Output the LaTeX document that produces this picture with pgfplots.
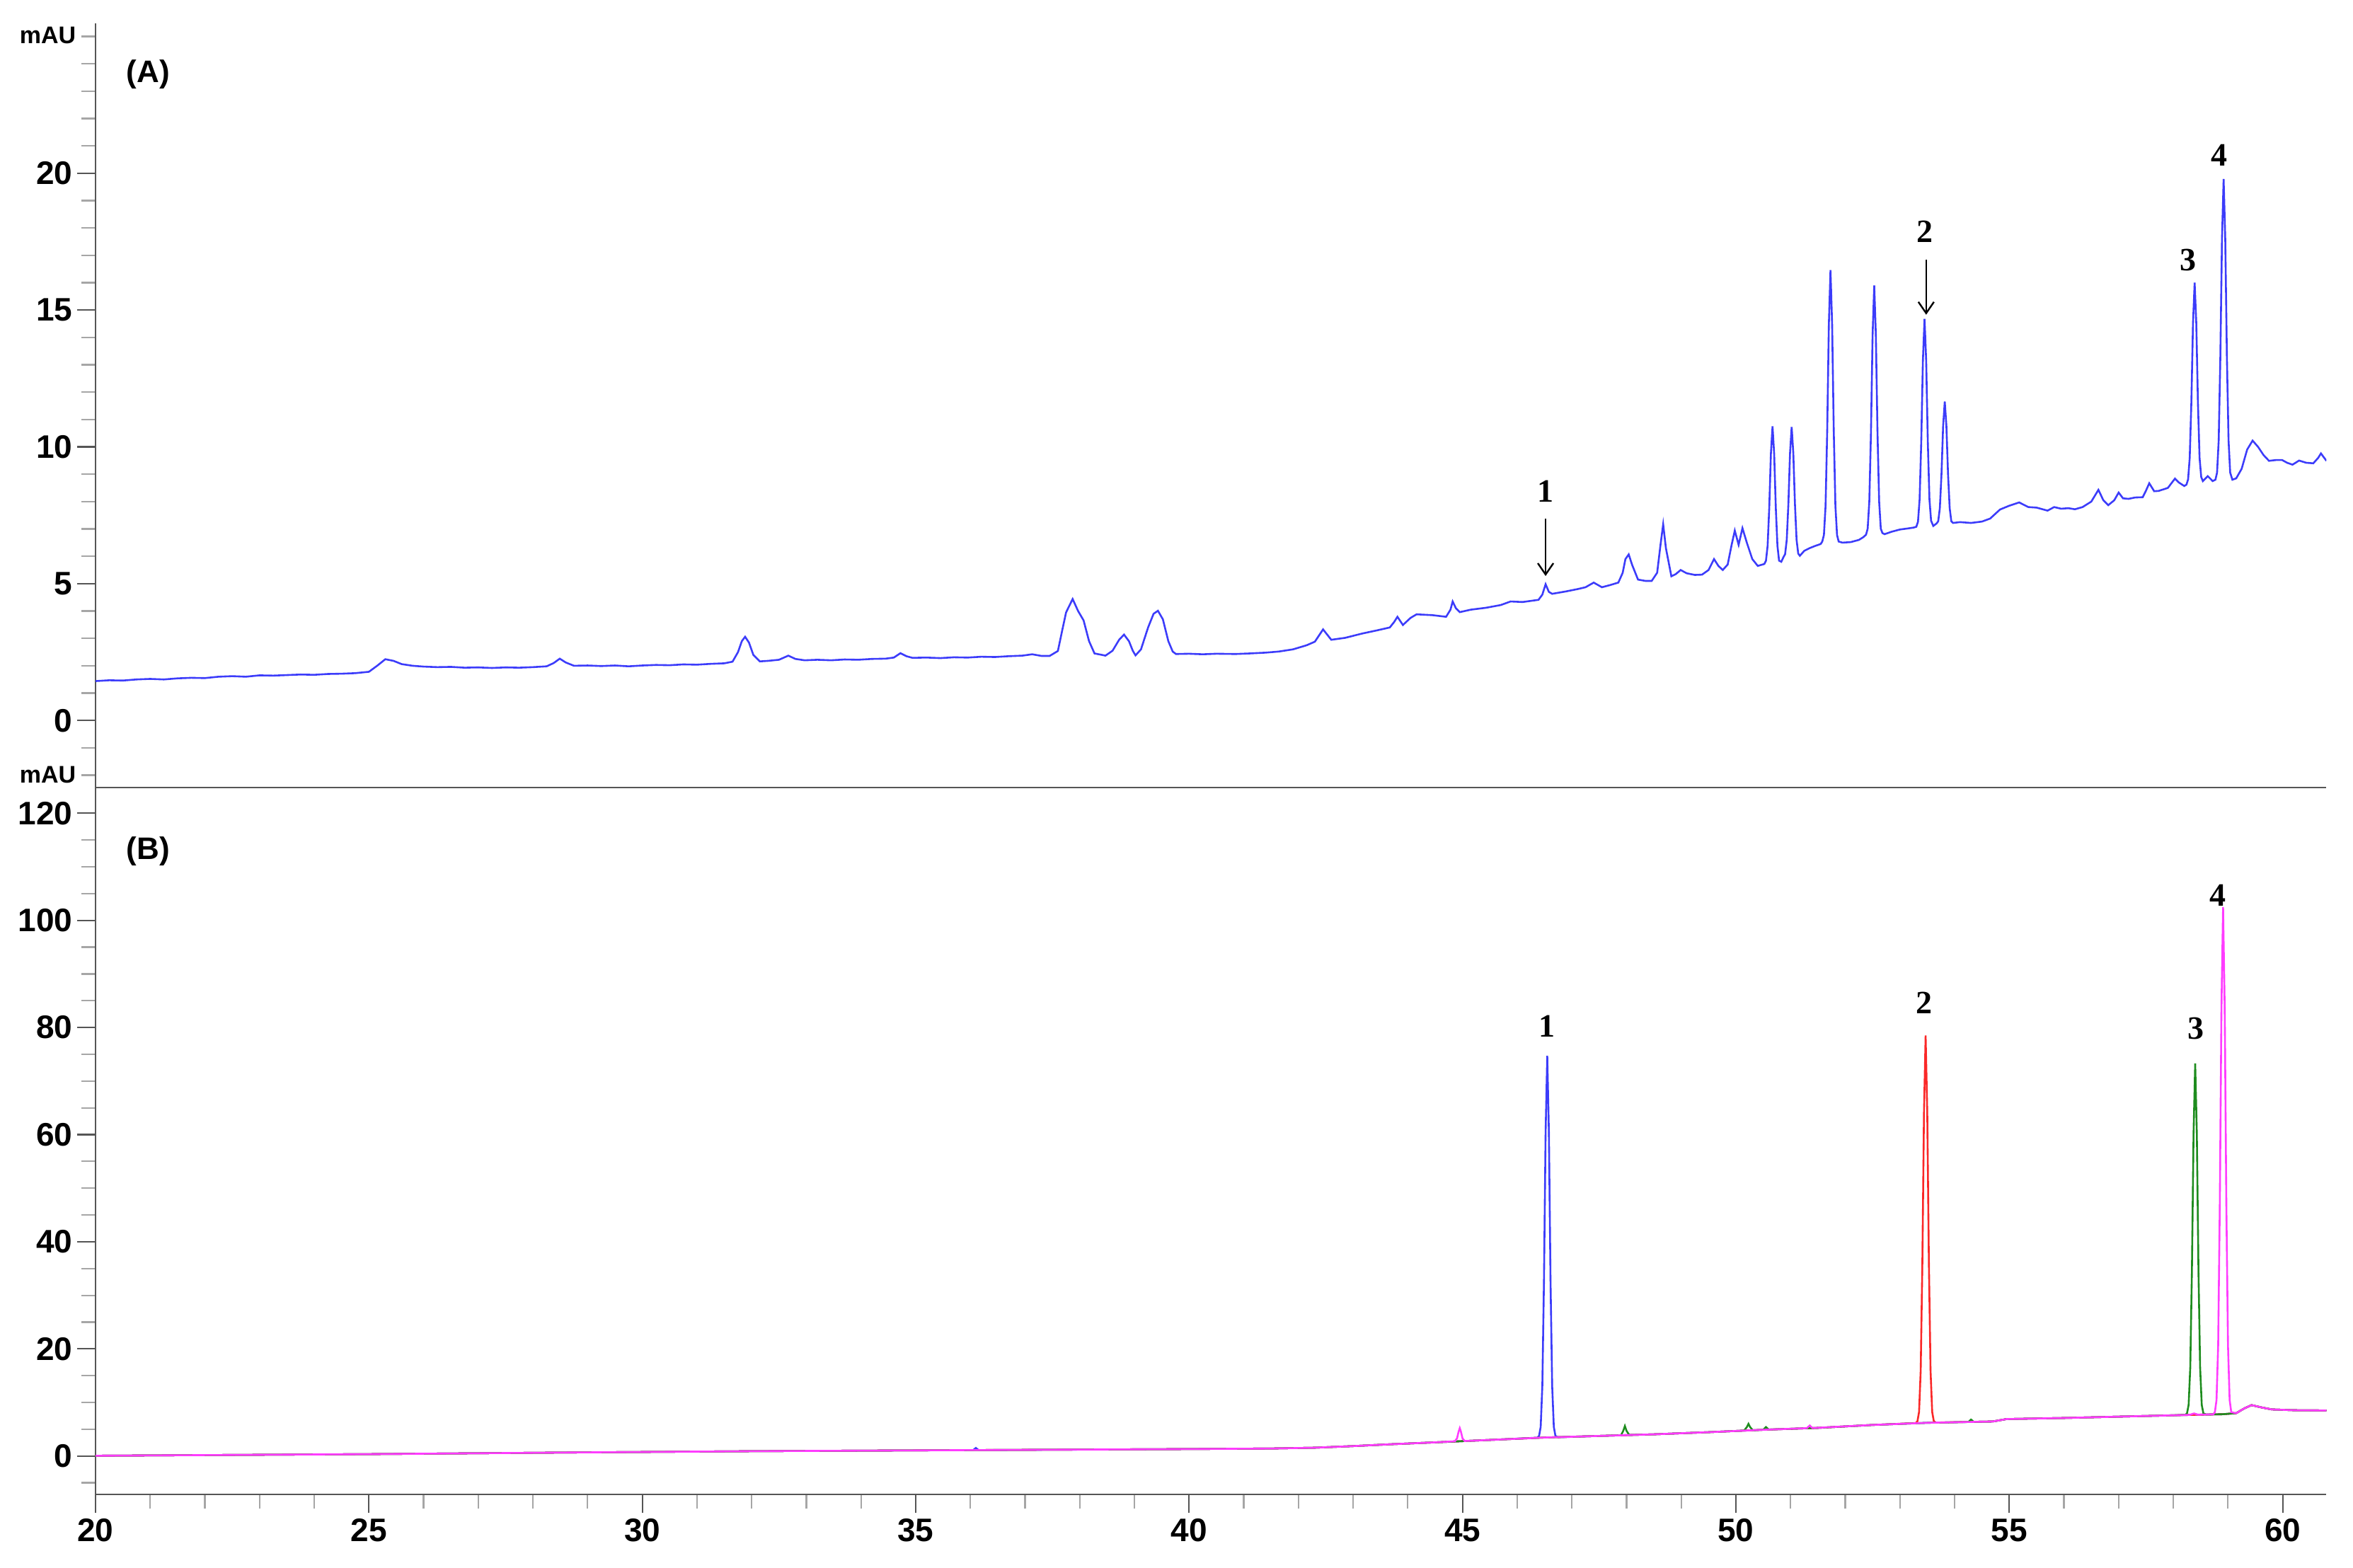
\documentclass[border=0pt]{standalone}
\usepackage{fontspec}
\setmainfont{Liberation Sans}
\newfontfamily\tnr{Liberation Serif}
\usepackage{pgfplots}
\usepackage{pgfplotstable}
\pgfplotsset{compat=1.18}
\usetikzlibrary{arrows.meta}

\definecolor{cA}{RGB}{60,60,250}
\definecolor{cR}{RGB}{250,40,40}
\definecolor{cG}{RGB}{30,140,30}
\definecolor{cM}{RGB}{255,60,255}
\definecolor{axc}{RGB}{85,85,85}

% (A) sample trace
\pgfplotstableread[row sep=\\]{
x y\\
20.0 1.44\\ 20.25 1.47\\ 20.5 1.46\\ 20.75 1.50\\ 21.0 1.52\\ 21.25 1.50\\ 21.5 1.54\\ 21.75 1.56\\
22.0 1.55\\ 22.25 1.60\\ 22.5 1.62\\ 22.75 1.60\\ 23.0 1.65\\ 23.25 1.64\\ 23.5 1.66\\ 23.75 1.68\\
24.0 1.67\\ 24.25 1.70\\ 24.5 1.71\\ 24.75 1.73\\ 25.0 1.78\\ 25.15 2.00\\ 25.3 2.24\\ 25.45 2.18\\
25.6 2.06\\ 25.8 2.00\\ 26.0 1.97\\ 26.25 1.95\\ 26.5 1.96\\ 26.75 1.93\\ 27.0 1.94\\ 27.25 1.92\\
27.5 1.94\\ 27.75 1.93\\ 28.0 1.95\\ 28.25 1.98\\ 28.38 2.10\\ 28.49 2.26\\ 28.6 2.12\\ 28.75 2.00\\
29.0 2.01\\ 29.25 1.99\\ 29.5 2.01\\ 29.75 1.98\\ 30.0 2.01\\ 30.25 2.03\\ 30.5 2.02\\ 30.75 2.05\\
31.0 2.04\\ 31.25 2.07\\ 31.5 2.09\\ 31.65 2.15\\ 31.75 2.50\\ 31.82 2.90\\ 31.88 3.06\\ 31.95 2.85\\
32.03 2.40\\ 32.15 2.16\\ 32.3 2.18\\ 32.5 2.22\\ 32.67 2.37\\ 32.8 2.25\\ 32.97 2.20\\ 33.2 2.22\\
33.45 2.20\\ 33.7 2.23\\ 33.95 2.22\\ 34.2 2.25\\ 34.45 2.26\\ 34.6 2.30\\ 34.72 2.46\\ 34.83 2.35\\
34.94 2.29\\ 35.2 2.30\\ 35.45 2.28\\ 35.7 2.31\\ 35.95 2.30\\ 36.2 2.33\\ 36.45 2.32\\ 36.7 2.35\\
36.95 2.37\\ 37.13 2.42\\ 37.3 2.36\\ 37.45 2.36\\ 37.6 2.54\\ 37.68 3.30\\ 37.75 3.95\\ 37.87 4.44\\
37.97 4.00\\ 38.07 3.66\\ 38.17 2.90\\ 38.27 2.45\\ 38.4 2.40\\ 38.47 2.37\\ 38.6 2.55\\ 38.72 2.95\\
38.81 3.14\\ 38.9 2.90\\ 38.97 2.55\\ 39.02 2.38\\ 39.12 2.60\\ 39.25 3.40\\ 39.35 3.90\\ 39.43 4.01\\
39.52 3.70\\ 39.62 2.90\\ 39.7 2.52\\ 39.76 2.43\\ 40.0 2.44\\ 40.25 2.42\\ 40.5 2.44\\ 40.85 2.43\\
41.1 2.45\\ 41.4 2.48\\ 41.64 2.52\\ 41.9 2.60\\ 42.15 2.75\\ 42.3 2.88\\ 42.45 3.33\\ 42.6 2.95\\
42.85 3.02\\ 43.17 3.18\\ 43.45 3.30\\ 43.67 3.40\\ 43.75 3.60\\ 43.81 3.79\\ 43.91 3.49\\ 44.05 3.75\\
44.16 3.88\\ 44.45 3.85\\ 44.7 3.79\\ 44.78 4.05\\ 44.82 4.35\\ 44.88 4.10\\ 44.95 3.96\\ 45.15 4.05\\
45.43 4.12\\ 45.7 4.22\\ 45.88 4.35\\ 46.1 4.33\\ 46.39 4.41\\ 46.46 4.60\\ 46.52 4.98\\ 46.58 4.70\\
46.64 4.63\\ 46.9 4.72\\ 47.1 4.80\\ 47.25 4.87\\ 47.4 5.04\\ 47.55 4.87\\ 47.7 4.95\\ 47.85 5.04\\
47.93 5.40\\ 47.98 5.90\\ 48.04 6.07\\ 48.1 5.70\\ 48.21 5.15\\ 48.35 5.10\\ 48.46 5.10\\ 48.56 5.40\\
48.62 6.40\\ 48.67 7.17\\ 48.72 6.30\\ 48.82 5.27\\ 48.9 5.35\\ 48.99 5.50\\ 49.1 5.38\\ 49.25 5.32\\
49.38 5.33\\ 49.5 5.50\\ 49.6 5.90\\ 49.68 5.65\\ 49.76 5.50\\ 49.85 5.70\\ 49.92 6.40\\ 49.98 6.94\\
50.05 6.42\\ 50.12 7.03\\ 50.2 6.50\\ 50.3 5.90\\ 50.4 5.65\\ 50.52 5.72\\ 50.55 5.84\\ 50.58 6.38\\
50.61 7.77\\ 50.64 9.74\\ 50.67 10.75\\ 50.70 9.74\\ 50.73 7.77\\ 50.76 6.38\\ 50.79 5.84\\ 50.83 5.80\\
50.87 5.97\\ 50.90 6.08\\ 50.93 6.60\\ 50.96 7.91\\ 50.99 9.77\\ 51.02 10.73\\ 51.05 9.77\\ 51.08 7.91\\
51.11 6.60\\ 51.14 6.10\\ 51.17 6.02\\ 51.25 6.20\\ 51.35 6.30\\ 51.45 6.38\\ 51.55 6.45\\ 51.58 6.54\\
51.61 6.78\\ 51.64 7.84\\ 51.67 10.58\\ 51.70 14.47\\ 51.73 16.46\\ 51.76 14.47\\ 51.79 10.58\\ 51.82 7.84\\
51.85 6.78\\ 51.88 6.54\\ 51.95 6.50\\ 52.1 6.52\\ 52.25 6.60\\ 52.33 6.70\\ 52.38 6.79\\ 52.41 7.01\\
52.44 8.00\\ 52.47 10.50\\ 52.50 14.07\\ 52.53 15.90\\ 52.56 14.07\\ 52.59 10.50\\ 52.62 8.00\\ 52.65 7.01\\
52.68 6.85\\ 52.72 6.81\\ 52.85 6.90\\ 53.0 6.98\\ 53.15 7.02\\ 53.25 7.05\\ 53.30 7.08\\ 53.33 7.26\\
53.36 8.08\\ 53.39 10.18\\ 53.42 13.15\\ 53.45 14.68\\ 53.48 13.15\\ 53.51 10.18\\ 53.54 8.08\\ 53.57 7.30\\
53.61 7.11\\ 53.67 7.20\\ 53.70 7.28\\ 53.73 7.76\\ 53.76 9.00\\ 53.79 10.76\\ 53.82 11.66\\ 53.85 10.76\\
53.88 9.00\\ 53.91 7.76\\ 53.94 7.28\\ 53.97 7.22\\ 54.1 7.25\\ 54.3 7.22\\ 54.5 7.27\\ 54.65 7.38\\
54.83 7.71\\ 55.0 7.85\\ 55.18 7.97\\ 55.35 7.80\\ 55.5 7.78\\ 55.7 7.67\\ 55.82 7.80\\ 55.95 7.74\\
56.08 7.76\\ 56.2 7.72\\ 56.34 7.80\\ 56.5 8.00\\ 56.63 8.43\\ 56.72 8.05\\ 56.81 7.87\\ 56.92 8.05\\
57.0 8.33\\ 57.08 8.12\\ 57.18 8.10\\ 57.3 8.15\\ 57.44 8.16\\ 57.5 8.40\\ 57.56 8.67\\ 57.65 8.38\\
57.73 8.39\\ 57.9 8.50\\ 58.03 8.84\\ 58.1 8.70\\ 58.2 8.57\\ 58.24 8.62\\ 58.27 8.81\\ 58.30 9.60\\
58.33 11.63\\ 58.36 14.52\\ 58.39 16.00\\ 58.42 14.52\\ 58.45 11.63\\ 58.48 9.60\\ 58.51 8.90\\ 58.54 8.75\\
58.63 8.93\\ 58.72 8.75\\ 58.77 8.80\\ 58.80 9.06\\ 58.83 10.24\\ 58.86 13.28\\ 58.89 17.58\\ 58.92 19.79\\
58.95 17.58\\ 58.98 13.28\\ 59.01 10.24\\ 59.04 9.06\\ 59.08 8.80\\ 59.15 8.85\\ 59.25 9.20\\ 59.35 9.90\\
59.45 10.23\\ 59.55 10.00\\ 59.65 9.70\\ 59.75 9.49\\ 59.88 9.52\\ 59.99 9.52\\ 60.08 9.42\\ 60.18 9.35\\
60.3 9.50\\ 60.43 9.42\\ 60.56 9.40\\ 60.65 9.60\\ 60.7 9.76\\ 60.8 9.49\\
}\traceA

% (B) standards, one trace per compound
\pgfplotstableread[row sep=\\]{
x y\\
20 0.05\\ 25 0.35\\ 28.6 0.65\\ 32 0.9\\ 36.05 1.1\\ 36.1 1.5\\ 36.15 1.1\\ 40 1.3\\ 41.5 1.4\\
42.3 1.55\\ 43 1.85\\ 43.7 2.2\\ 44.5 2.55\\ 45.5 3.0\\ 46.37 3.42\\ 46.40 3.73\\ 46.43 5.45\\
46.46 13.07\\ 46.49 32.66\\ 46.52 60.45\\ 46.55 74.7\\ 46.58 60.45\\ 46.61 32.66\\ 46.64 13.07\\
46.67 5.45\\ 46.70 3.73\\ 46.75 3.50\\ 47.5 3.75\\ 48.5 4.05\\ 49.5 4.45\\ 50.5 4.9\\ 51.5 5.25\\
52.5 5.8\\ 53.5 6.2\\ 54.7 6.45\\ 54.95 6.9\\ 56 7.1\\ 57 7.35\\ 57.8 7.55\\ 58.4 7.7\\ 58.9 7.8\\
59.15 8.0\\ 59.3 8.9\\ 59.43 9.5\\ 59.6 9.1\\ 59.8 8.7\\ 60.2 8.55\\ 60.8 8.5\\
}\traceBone
\pgfplotstableread[row sep=\\]{
x y\\
20 0.05\\ 25 0.35\\ 28.6 0.65\\ 32 0.9\\ 36 1.1\\ 40 1.3\\ 41.5 1.4\\ 42.3 1.55\\ 43 1.85\\
43.7 2.2\\ 44.5 2.55\\ 45.5 3.0\\ 46.5 3.45\\ 47.5 3.75\\ 48.5 4.05\\ 49.5 4.45\\ 50.5 4.9\\
51.5 5.25\\ 52.5 5.8\\ 53.29 6.15\\ 53.32 6.49\\ 53.35 8.22\\ 53.38 15.96\\ 53.41 35.84\\ 53.44 64.04\\
53.47 78.5\\ 53.50 64.04\\ 53.53 35.84\\ 53.56 15.96\\ 53.59 8.22\\ 53.62 6.49\\ 53.66 6.25\\
54.7 6.45\\ 54.95 6.9\\ 56 7.1\\ 57 7.35\\ 57.8 7.55\\ 58.4 7.7\\ 58.9 7.8\\ 59.15 8.0\\ 59.3 8.9\\
59.43 9.5\\ 59.6 9.1\\ 59.8 8.7\\ 60.2 8.55\\ 60.8 8.5\\
}\traceBtwo
\pgfplotstableread[row sep=\\]{
x y\\
20 0.05\\ 25 0.35\\ 28.6 0.65\\ 32 0.9\\ 36 1.1\\ 40 1.3\\ 41.5 1.4\\ 42.3 1.55\\ 43 1.85\\
43.7 2.2\\ 44.5 2.55\\ 45.5 3.0\\ 46.5 3.45\\ 47.5 3.75\\ 47.9 3.88\\ 47.94 4.7\\ 47.97 5.6\\
48.0 4.7\\ 48.05 3.92\\ 48.5 4.05\\ 49.5 4.45\\ 50.15 4.75\\ 50.2 5.4\\ 50.23 6.0\\ 50.26 5.4\\
50.31 4.8\\ 50.5 4.9\\ 50.55 5.4\\ 50.6 4.95\\ 51.5 5.25\\ 52.5 5.8\\ 53.5 6.2\\ 54.25 6.35\\
54.3 6.8\\ 54.35 6.38\\ 54.7 6.45\\ 54.95 6.9\\ 56 7.1\\ 57 7.35\\ 57.8 7.55\\ 58.22 7.68\\
58.25 7.96\\ 58.28 9.54\\ 58.31 16.56\\ 58.34 34.6\\ 58.37 60.18\\ 58.40 73.3\\ 58.43 60.18\\
58.46 34.6\\ 58.49 16.56\\ 58.52 9.54\\ 58.55 7.96\\ 58.6 7.75\\ 58.9 7.8\\ 59.15 8.0\\ 59.3 8.9\\
59.43 9.5\\ 59.6 9.1\\ 59.8 8.7\\ 60.2 8.55\\ 60.8 8.5\\
}\traceBthree
\pgfplotstableread[row sep=\\]{
x y\\
20 0.05\\ 25 0.35\\ 28.6 0.65\\ 32 0.9\\ 36 1.1\\ 40 1.3\\ 41.5 1.4\\ 42.3 1.55\\ 43 1.85\\
43.7 2.2\\ 44.5 2.55\\ 44.86 2.75\\ 44.9 3.3\\ 44.93 4.6\\ 44.95 5.2\\ 44.97 4.6\\ 45.0 3.3\\
45.04 2.8\\ 45.5 3.0\\ 46.5 3.45\\ 47.5 3.75\\ 48.5 4.05\\ 49.5 4.45\\ 50.5 4.9\\ 51.3 5.2\\
51.35 5.7\\ 51.4 5.22\\ 52.5 5.8\\ 53.5 6.2\\ 54.7 6.45\\ 54.95 6.9\\ 56 7.1\\ 57 7.35\\ 57.8 7.55\\
58.3 7.68\\ 58.38 7.95\\ 58.45 7.72\\ 58.73 7.78\\ 58.76 8.18\\ 58.79 10.45\\ 58.82 20.58\\
58.85 46.63\\ 58.88 83.56\\ 58.91 102.5\\ 58.94 83.56\\ 58.97 46.63\\ 59.00 20.58\\ 59.03 10.45\\
59.06 8.18\\ 59.15 8.0\\ 59.3 8.9\\ 59.43 9.5\\ 59.6 9.1\\ 59.8 8.7\\ 60.2 8.55\\ 60.8 8.5\\
}\traceBfour

\pgfplotsset{
  chrom/.style={
    scale only axis, width=788.1pt, xmin=20, xmax=60.8,
    axis x line=bottom, axis y line=left,
    axis line style={-, axc, line width=0.55pt},
    tick align=outside,
    major tick length=6.5pt, minor tick length=5pt,
    major tick style={axc, line width=0.55pt},
    minor tick style={gray!70, line width=0.55pt},
    tick label style={font=\bfseries\fontsize{11.5}{12}\selectfont},
    /pgf/number format/assume math mode=true,
    yticklabel style={inner sep=1.5pt},
    xticklabel style={inner sep=2pt},
  },
}

\begin{document}
\begin{tikzpicture}
\useasboundingbox (-33.75pt,-25.75pt) rectangle (797.5pt,528pt);

\begin{axis}[chrom, at={(0,0)}, anchor=south west, height=249.75pt,
  ymin=-7.17, ymax=124.8,
  xtick={20,25,...,60},
  minor xtick={21,22,23,24,26,27,28,29,31,32,33,34,36,37,38,39,41,42,43,44,46,47,48,49,51,52,53,54,56,57,58,59},
  ytick={0,20,...,120},
  minor ytick={-5,5,10,15,25,30,35,45,50,55,65,70,75,85,90,95,105,110,115},
]
\addplot[cA, line width=0.65pt] table {\traceBone};
\addplot[cR, line width=0.65pt] table {\traceBtwo};
\addplot[cG, line width=0.65pt] table {\traceBthree};
\addplot[cM, line width=0.65pt] table {\traceBfour};
\begin{scope}[font=\tnr\bfseries\fontsize{11.5}{12}\selectfont]
\node at (axis cs:46.55,80.3) {1};
\node at (axis cs:53.44,84.6) {2};
\node at (axis cs:58.41,79.8) {3};
\node at (axis cs:58.82,104.7) {4};
\end{scope}
\end{axis}

\begin{axis}[chrom, at={(0,249.75pt)}, anchor=south west, height=270pt,
  ymin=-2.45, ymax=25.48,
  xtick=\empty, minor xtick={},
  ytick={0,5,...,20},
  minor ytick={-2,-1,1,2,3,4,6,7,8,9,11,12,13,14,16,17,18,19,21,22,23,24,25},
]
\addplot[cA, line width=0.65pt] table {\traceA};
\begin{scope}[font=\tnr\bfseries\fontsize{11.5}{12}\selectfont]
\node at (axis cs:46.52,8.38) {1};
\node at (axis cs:53.45,17.88) {2};
\node at (axis cs:58.27,16.84) {3};
\node at (axis cs:58.84,20.67) {4};
\end{scope}
\draw[-{Straight Barb[length=4pt,width=5.5pt]}, line width=0.6pt] (axis cs:46.52,7.38) -- (axis cs:46.52,5.28);
\draw[-{Straight Barb[length=4pt,width=5.5pt]}, line width=0.6pt] (axis cs:53.48,16.85) -- (axis cs:53.48,14.83);
\end{axis}

\node[anchor=east, inner sep=0pt, font=\bfseries\fontsize{8.5}{9}\selectfont] at (-6.75pt,515.5pt) {mAU};
\node[anchor=east, inner sep=0pt, font=\bfseries\fontsize{8.5}{9}\selectfont] at (-6.75pt,254.25pt) {mAU};
\node[anchor=west, inner sep=0pt, font=\bfseries\fontsize{11}{12}\selectfont] at (10.75pt,501.75pt) {(A)};
\node[anchor=west, inner sep=0pt, font=\bfseries\fontsize{11}{12}\selectfont] at (10.75pt,227.25pt) {(B)};
\end{tikzpicture}
\end{document}
